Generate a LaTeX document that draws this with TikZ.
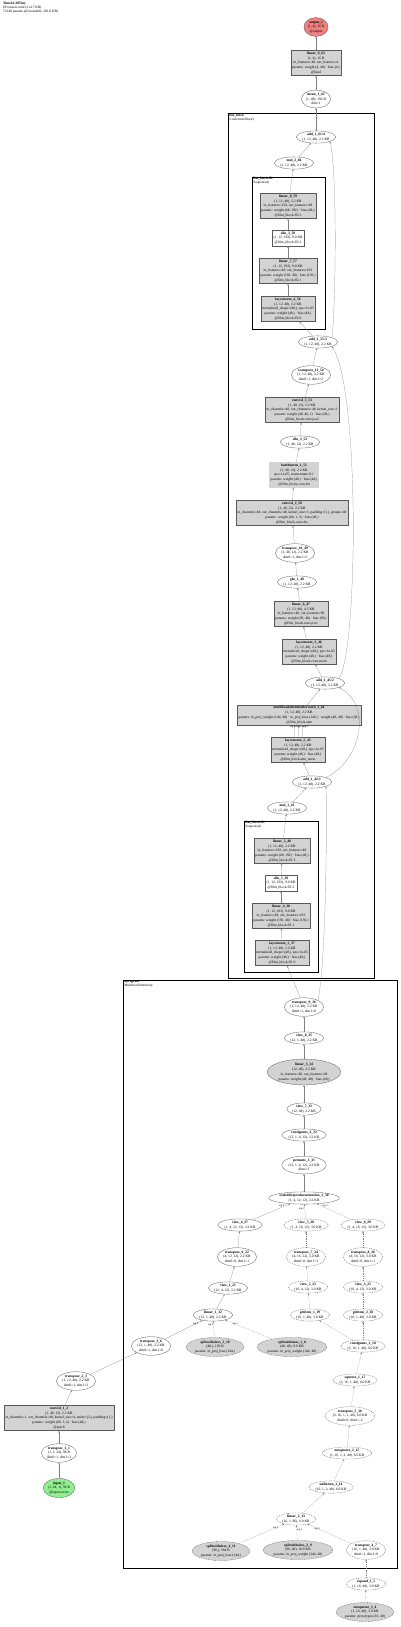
\documentclass[tikz,border=0pt]{standalone}
\usepackage{fontspec}
\setmainfont{Liberation Serif}
\usetikzlibrary{arrows.meta,positioning,fit,shapes.geometric}
\definecolor{nodegray}{HTML}{D3D3D3}
\definecolor{outred}{HTML}{F08080}
\definecolor{ingreen}{HTML}{90EE90}
\newcommand{\nodefont}{\fontsize{3.6}{4.8}\selectfont}
\newcommand{\clusterfont}{\fontsize{3.4}{4}\selectfont}
\newcommand{\argfont}{\fontsize{2.6}{3}\selectfont}
\tikzset{
  opbox/.style={rectangle, draw=black!65, fill=nodegray, align=center,
                inner sep=1.3pt, font=\nodefont, line width=0.3pt},
  plainbox/.style={opbox, fill=white},
  opell/.style={ellipse, draw=black!65, fill=white, align=center,
                inner sep=0.3pt, font=\nodefont, line width=0.3pt},
  parell/.style={opell, fill=nodegray},
  protoell/.style={opell, dash pattern=on 1pt off 0.8pt},
  protopar/.style={parell, dash pattern=on 1pt off 0.8pt},
  flow/.style={-{Stealth[length=2pt,width=1.6pt]}, draw=black!50, line width=0.2pt},
  protoflow/.style={flow, dash pattern=on 1pt off 0.8pt},
  cluster/.style={draw=black, line width=1pt, inner sep=0pt},
  clusterlabel/.style={anchor=north west, align=left, font=\clusterfont, inner sep=0.8pt},
  arglabel/.style={font=\argfont, inner sep=0.3pt},
}

\begin{document}
\begin{tikzpicture}[x=1pt, y=-1pt]
  \useasboundingbox (0,0) rectangle (400,1627);

  % Graph title
  \node[anchor=north west, align=left, inner sep=0pt, font=\fontsize{3.5}{3.9}\selectfont] (title) at (3,2)
    {\textbf{TimeLLMTiny}\\69 tensors total (214.7 KB)\\72140 params (all trainable, 281.8 KB)};

  % Module clusters
  \node[cluster, fit={(228,114) (374,978)}] (film_block) {};
  \node[clusterlabel] (film_block_lbl) at (film_block.north west) {\textbf{film\_block}\\(ConformerBlock)};
  \node[cluster, fit={(252,177) (325,329)}] (film_ff2) {};
  \node[clusterlabel] (film_ff2_lbl) at (film_ff2.north west) {\textbf{film\_block.ff2}\\(Sequential)};
  \node[cluster, fit={(244,821) (318,972)}] (film_ff1) {};
  \node[clusterlabel] (film_ff1_lbl) at (film_ff1.north west) {\textbf{film\_block.ff1}\\(Sequential)};
  \node[cluster, fit={(123,980) (397,1568)}] (reprogram) {};
  \node[clusterlabel] (reprogram_lbl) at (reprogram.north west) {\textbf{reprogram}\\(MultiheadAttention)};

  % Head
  \node[opell, fill=outred] (output_1) at (316,27) {\textbf{output\_1}\\(1, 4), 16 B\\@output};
  \node[opbox] (linear_9_63) at (316,63) {\textbf{linear\_9\_63}\\(1, 4), 16 B\\in\_features=48, out\_features=4\\params: weight (4, 48) · bias (4,)\\@head};
  \node[opell] (mean_1_62) at (316,99) {\textbf{mean\_1\_62}\\(1, 48), 192 B\\dim=1};

  % Conformer block: second feed-forward
  \node[opell] (add_1_61) at (316,137) {\textbf{add\_1\_61:4}\\(1, 12, 48), 2.2 KB};
  \node[opell] (mul_2_60) at (294,163) {\textbf{mul\_2\_60}\\(1, 12, 48), 2.2 KB};
  \node[opbox] (linear_8_59) at (288,206) {\textbf{linear\_8\_59}\\(1, 12, 48), 2.2 KB\\in\_features=192, out\_features=48\\params: weight (48, 192) · bias (48,)\\@film\_block.ff2.3};
  \node[plainbox] (silu_3_58) at (288,238) {\textbf{silu\_3\_58}\\(1, 12, 192), 9.0 KB\\@film\_block.ff2.2};
  \node[opbox] (linear_7_57) at (288,271) {\textbf{linear\_7\_57}\\(1, 12, 192), 9.0 KB\\in\_features=48, out\_features=192\\params: weight (192, 48) · bias (192,)\\@film\_block.ff2.1};
  \node[opbox] (layernorm_4_56) at (288,309) {\textbf{layernorm\_4\_56}\\(1, 12, 48), 2.2 KB\\normalized\_shape=(48,), eps=1e-05\\params: weight (48,) · bias (48,)\\@film\_block.ff2.0};
  \node[opell] (add_1_55) at (318,342) {\textbf{add\_1\_55:3}\\(1, 12, 48), 2.2 KB};

  % Conformer block: convolution module
  \node[opell] (transpose_11_54) at (311,375) {\textbf{transpose\_11\_54}\\(1, 12, 48), 2.2 KB\\dim0=1, dim1=2};
  \node[opbox] (conv1d_3_53) at (302,410) {\textbf{conv1d\_3\_53}\\(1, 48, 12), 2.2 KB\\in\_channels=48, out\_channels=48, kernel\_size=1\\params: weight (48, 48, 1) · bias (48,)\\@film\_block.conv.pw2};
  \node[opell] (silu_2_52) at (300,442) {\textbf{silu\_2\_52}\\(1, 48, 12), 2.2 KB};
  \node[opbox, double=nodegray, double distance=0.6pt] (batchnorm_1_51) at (294,475) {\textbf{batchnorm\_1\_51}\\(1, 48, 12), 2.2 KB\\eps=1e-05, momentum=0.1\\params: weight (48,) · bias (48,)\\@film\_block.conv.bn};
  \node[opbox] (conv1d_2_50) at (292,513) {\textbf{conv1d\_2\_50}\\(1, 48, 12), 2.2 KB\\in\_channels=48, out\_channels=48, kernel\_size=3, padding=(1,), groups=48\\params: weight (48, 1, 3) · bias (48,)\\@film\_block.conv.dw};
  \node[opell] (transpose_10_49) at (295,553) {\textbf{transpose\_10\_49}\\(1, 48, 12), 2.2 KB\\dim0=1, dim1=2};
  \node[opell] (glu_1_48) at (297,582) {\textbf{glu\_1\_48}\\(1, 12, 48), 2.2 KB};
  \node[opbox] (linear_6_47) at (301,614) {\textbf{linear\_6\_47}\\(1, 12, 96), 4.5 KB\\in\_features=48, out\_features=96\\params: weight (96, 48) · bias (96,)\\@film\_block.conv.pw1};
  \node[opbox] (layernorm_3_46) at (309,652) {\textbf{layernorm\_3\_46}\\(1, 12, 48), 2.2 KB\\normalized\_shape=(48,), eps=1e-05\\params: weight (48,) · bias (48,)\\@film\_block.conv.norm};
  \node[opell] (add_1_45) at (325,683) {\textbf{add\_1\_45:2}\\(1, 12, 48), 2.2 KB};

  % Conformer block: self-attention
  \node[opbox] (mha_1_44) at (299,715) {\textbf{multiheadattentionforward\_1\_44}\\(1, 12, 48), 2.2 KB\\params: in\_proj\_weight (144, 48) · in\_proj\_bias (144,) · weight (48, 48) · bias (48,)\\@film\_block.attn};
  \node[opbox] (layernorm_2_43) at (298,750) {\textbf{layernorm\_2\_43}\\(1, 12, 48), 2.2 KB\\normalized\_shape=(48,), eps=1e-05\\params: weight (48,) · bias (48,)\\@film\_block.attn\_norm};
  \node[opell] (add_1_42) at (312,782) {\textbf{add\_1\_42:1}\\(1, 12, 48), 2.2 KB};

  % Conformer block: first feed-forward
  \node[opell] (mul_1_41) at (287,808) {\textbf{mul\_1\_41}\\(1, 12, 48), 2.2 KB};
  \node[opbox] (linear_5_40) at (282,851) {\textbf{linear\_5\_40}\\(1, 12, 48), 2.2 KB\\in\_features=192, out\_features=48\\params: weight (48, 192) · bias (48,)\\@film\_block.ff1.3};
  \node[plainbox] (silu_1_39) at (281,883) {\textbf{silu\_1\_39}\\(1, 12, 192), 9.0 KB\\@film\_block.ff1.2};
  \node[opbox] (linear_4_38) at (281,916) {\textbf{linear\_4\_38}\\(1, 12, 192), 9.0 KB\\in\_features=48, out\_features=192\\params: weight (192, 48) · bias (192,)\\@film\_block.ff1.1};
  \node[opbox] (layernorm_1_37) at (282,953) {\textbf{layernorm\_1\_37}\\(1, 12, 48), 2.2 KB\\normalized\_shape=(48,), eps=1e-05\\params: weight (48,) · bias (48,)\\@film\_block.ff1.0};

  % Reprogramming attention: output side
  \node[opell] (transpose_9_36) at (304,1007) {\textbf{transpose\_9\_36}\\(1, 12, 48), 2.2 KB\\dim0=1, dim1=0};
  \node[opell] (view_8_35) at (304,1038) {\textbf{view\_8\_35}\\(12, 1, 48), 2.2 KB};
  \node[parell] (linear_3_34) at (304,1072) {\textbf{linear\_3\_34}\\(12, 48), 2.2 KB\\in\_features=48, out\_features=48\\params: weight (48, 48) · bias (48,)};
  \node[opell] (view_7_33) at (304,1109) {\textbf{view\_7\_33}\\(12, 48), 2.2 KB};
  \node[opell] (contiguous_2_32) at (304,1135) {\textbf{contiguous\_2\_32}\\(12, 1, 4, 12), 2.2 KB};
  \node[opell] (permute_1_31) at (304,1165) {\textbf{permute\_1\_31}\\(12, 1, 4, 12), 2.2 KB\\dims=2};
  \node[opell] (sdpa_1_30) at (304,1198) {\textbf{scaleddotproductattention\_1\_30}\\(1, 4, 12, 12), 2.2 KB};

  % Reprogramming attention: query, key and value heads
  \node[opell] (view_4_27) at (240,1225) {\textbf{view\_4\_27}\\(1, 4, 12, 12), 2.2 KB};
  \node[protoell] (view_5_28) at (306,1225) {\textbf{view\_5\_28}\\(1, 4, 16, 12), 3.0 KB};
  \node[protoell] (view_6_29) at (363,1225) {\textbf{view\_6\_29}\\(1, 4, 16, 12), 3.0 KB};
  \node[opell] (transpose_6_22) at (237,1257) {\textbf{transpose\_6\_22}\\(4, 12, 12), 2.2 KB\\dim0=0, dim1=1};
  \node[protoell] (transpose_7_24) at (306,1257) {\textbf{transpose\_7\_24}\\(4, 16, 12), 3.0 KB\\dim0=0, dim1=1};
  \node[protoell] (transpose_8_26) at (363,1257) {\textbf{transpose\_8\_26}\\(4, 16, 12), 3.0 KB\\dim0=0, dim1=1};
  \node[opell] (view_1_21) at (228,1288) {\textbf{view\_1\_21}\\(12, 4, 12), 2.2 KB};
  \node[protoell] (view_2_23) at (308,1287) {\textbf{view\_2\_23}\\(16, 4, 12), 3.0 KB};
  \node[protoell] (view_3_25) at (363,1287) {\textbf{view\_3\_25}\\(16, 4, 12), 3.0 KB};
  \node[opell] (linear_1_12) at (213,1315) {\textbf{linear\_1\_12}\\(12, 1, 48), 2.2 KB};
  \node[protoell] (getitem_1_19) at (310,1315) {\textbf{getitem\_1\_19}\\(16, 1, 48), 3.0 KB};
  \node[protoell] (getitem_2_20) at (363,1315) {\textbf{getitem\_2\_20}\\(16, 1, 48), 3.0 KB};

  % Reprogramming attention: projections
  \node[opell] (transpose_3_6) at (151,1346) {\textbf{transpose\_3\_6}\\(12, 1, 48), 2.2 KB\\dim0=1, dim1=0};
  \node[protopar] (split_3_10) at (215,1347) {\textbf{splitwithsizes\_3\_10}\\(48,), 192 B\\params: in\_proj\_bias (144,)};
  \node[protopar] (split_1_8) at (292,1347) {\textbf{splitwithsizes\_1\_8}\\(48, 48), 9.0 KB\\params: in\_proj\_weight (144, 48)};
  \node[protoell] (contiguous_1_18) at (363,1346) {\textbf{contiguous\_1\_18}\\(2, 16, 1, 48), 6.0 KB};
  \node[protoell] (squeeze_1_17) at (355,1380) {\textbf{squeeze\_1\_17}\\(2, 16, 1, 48), 6.0 KB};
  \node[protoell] (transpose_5_16) at (350,1416) {\textbf{transpose\_5\_16}\\(2, 16, 1, 1, 48), 6.0 KB\\dim0=0, dim1=-2};
  \node[protoell] (unsqueeze_2_15) at (347,1453) {\textbf{unsqueeze\_2\_15}\\(1, 16, 1, 2, 48), 6.0 KB};
  \node[protoell] (unflatten_1_14) at (331,1487) {\textbf{unflatten\_1\_14}\\(16, 1, 2, 48), 6.0 KB};
  \node[protoell] (linear_2_13) at (296,1519) {\textbf{linear\_2\_13}\\(16, 1, 96), 6.0 KB};
  \node[protopar] (split_4_11) at (221,1551) {\textbf{splitwithsizes\_4\_11}\\(96,), 384 B\\params: in\_proj\_bias (144,)};
  \node[protopar] (split_2_9) at (298,1550) {\textbf{splitwithsizes\_2\_9}\\(96, 48), 18.0 KB\\params: in\_proj\_weight (144, 48)};
  \node[protoell] (transpose_4_7) at (366,1550) {\textbf{transpose\_4\_7}\\(16, 1, 48), 3.0 KB\\dim0=1, dim1=0};

  % Text prototypes
  \node[protoell] (expand_1_5) at (366,1584) {\textbf{expand\_1\_5}\\(1, 16, 48), 3.0 KB};
  \node[protopar] (unsqueeze_1_4) at (365,1612) {\textbf{unsqueeze\_1\_4}\\(1, 16, 48), 3.0 KB\\params: prototypes (16, 48)};

  % Patch embedding of the input series
  \node[opell] (transpose_2_3) at (76,1381) {\textbf{transpose\_2\_3}\\(1, 12, 48), 2.2 KB\\dim0=1, dim1=2};
  \node[opbox] (conv1d_1_2) at (59,1418) {\textbf{conv1d\_1\_2}\\(1, 48, 12), 2.2 KB\\in\_channels=1, out\_channels=48, kernel\_size=4, stride=(2,), padding=(1,)\\params: weight (48, 1, 4) · bias (48,)\\@patch};
  \node[opell] (transpose_1_1) at (59,1453) {\textbf{transpose\_1\_1}\\(1, 1, 24), 96 B\\dim0=1, dim1=2};
  \node[opell, fill=ingreen] (input_1) at (59,1488) {\textbf{input\_1}\\(1, 24, 1), 96 B\\@input.series};

  % Input path
  \draw[flow] (input_1) -- (transpose_1_1);
  \draw[flow] (transpose_1_1) -- (conv1d_1_2);
  \draw[flow] (conv1d_1_2) -- (transpose_2_3);
  \draw[flow] (transpose_2_3) -- (transpose_3_6);

  % Query projection and heads
  \draw[flow] (transpose_3_6) -- node[arglabel, pos=0.9, below left] {arg 0} (linear_1_12);
  \draw[protoflow] (split_3_10) -- node[arglabel, pos=0.75, left] {arg 2} (linear_1_12);
  \draw[protoflow] (split_1_8) -- node[arglabel, pos=0.85, below right] {arg 1} (linear_1_12);
  \draw[flow] (linear_1_12) -- (view_1_21);
  \draw[flow] (view_1_21) -- (transpose_6_22);
  \draw[flow] (transpose_6_22) -- (view_4_27);

  % Prototype key/value path
  \draw[protoflow] (unsqueeze_1_4) -- (expand_1_5);
  \draw[protoflow] (expand_1_5) -- (transpose_4_7);
  \draw[protoflow] (transpose_4_7) -- node[arglabel, pos=0.85, below right] {arg 0} (linear_2_13);
  \draw[protoflow] (split_2_9) -- node[arglabel, pos=0.7, right] {arg 1} (linear_2_13);
  \draw[protoflow] (split_4_11) -- node[arglabel, pos=0.88, below left] {arg 2} (linear_2_13);
  \draw[protoflow] (linear_2_13) -- (unflatten_1_14);
  \draw[protoflow] (unflatten_1_14) -- (unsqueeze_2_15);
  \draw[protoflow] (unsqueeze_2_15) -- (transpose_5_16);
  \draw[protoflow] (transpose_5_16) -- (squeeze_1_17);
  \draw[protoflow] (squeeze_1_17) -- (contiguous_1_18);
  \draw[protoflow] (contiguous_1_18) -- (getitem_1_19);
  \draw[protoflow] (contiguous_1_18) -- (getitem_2_20);
  \draw[protoflow] (getitem_1_19) -- (view_2_23);
  \draw[protoflow] (view_2_23) -- (transpose_7_24);
  \draw[protoflow] (transpose_7_24) -- (view_5_28);
  \draw[protoflow] (getitem_2_20) -- (view_3_25);
  \draw[protoflow] (view_3_25) -- (transpose_8_26);
  \draw[protoflow] (transpose_8_26) -- (view_6_29);

  % Attention and output projection
  \draw[flow] (view_4_27) -- node[arglabel, pos=0.85, left] {arg 0} (sdpa_1_30);
  \draw[protoflow] (view_5_28) -- node[arglabel, pos=0.7, left] {arg 1} (sdpa_1_30);
  \draw[protoflow] (view_6_29) -- node[arglabel, pos=0.85, right] {arg 2} (sdpa_1_30);
  \draw[flow] (sdpa_1_30) -- (permute_1_31);
  \draw[flow] (permute_1_31) -- (contiguous_2_32);
  \draw[flow] (contiguous_2_32) -- (view_7_33);
  \draw[flow] (view_7_33) -- (linear_3_34);
  \draw[flow] (linear_3_34) -- (view_8_35);
  \draw[flow] (view_8_35) -- (transpose_9_36);

  % Conformer block main path
  \draw[flow] (transpose_9_36) -- (layernorm_1_37);
  \draw[flow] (layernorm_1_37) -- (linear_4_38);
  \draw[flow] (linear_4_38) -- (silu_1_39);
  \draw[flow] (silu_1_39) -- (linear_5_40);
  \draw[flow] (linear_5_40) -- (mul_1_41);
  \draw[flow] (mul_1_41) -- (add_1_42);
  \draw[flow] (add_1_42) -- (layernorm_2_43);
  \draw[flow] ([xshift=-4pt]layernorm_2_43.north) -- ([xshift=-4pt]mha_1_44.south);
  \draw[flow] (layernorm_2_43.north) -- (mha_1_44.south);
  \draw[flow] ([xshift=4pt]layernorm_2_43.north) -- ([xshift=4pt]mha_1_44.south);
  \node[arglabel, below=0.3pt of mha_1_44.south] (mha_args) {arg 0\ \ arg 1\ \ arg 2};
  \draw[flow] (mha_1_44) -- (add_1_45);
  \draw[flow] (add_1_45) -- (layernorm_3_46);
  \draw[flow] (layernorm_3_46) -- (linear_6_47);
  \draw[flow] (linear_6_47) -- (glu_1_48);
  \draw[flow] (glu_1_48) -- (transpose_10_49);
  \draw[flow] (transpose_10_49) -- (conv1d_2_50);
  \draw[flow] (conv1d_2_50) -- (batchnorm_1_51);
  \draw[flow] (batchnorm_1_51) -- (silu_2_52);
  \draw[flow] (silu_2_52) -- (conv1d_3_53);
  \draw[flow] (conv1d_3_53) -- (transpose_11_54);
  \draw[flow] (transpose_11_54) -- (add_1_55);
  \draw[flow] (add_1_55) -- (layernorm_4_56);
  \draw[flow] (layernorm_4_56) -- (linear_7_57);
  \draw[flow] (linear_7_57) -- (silu_3_58);
  \draw[flow] (silu_3_58) -- (linear_8_59);
  \draw[flow] (linear_8_59) -- (mul_2_60);
  \draw[flow] (mul_2_60) -- (add_1_61);

  % Residual connections
  \draw[flow] (transpose_9_36.north east) .. controls (326,960) and (327,830) .. (add_1_42.south east);
  \draw[flow] (add_1_42.north east) .. controls (362,760) and (372,705) .. (add_1_45.south east);
  \draw[flow] (add_1_45.north east) .. controls (358,650) and (360,390) .. (add_1_55.south east);
  \draw[flow] (add_1_55.north east) .. controls (336,300) and (337,170) .. (add_1_61.south east);

  % Pooling and head
  \draw[flow] (add_1_61) -- (mean_1_62);
  \draw[flow] (mean_1_62) -- (linear_9_63);
  \draw[flow] (linear_9_63) -- (output_1);
\end{tikzpicture}
\end{document}
